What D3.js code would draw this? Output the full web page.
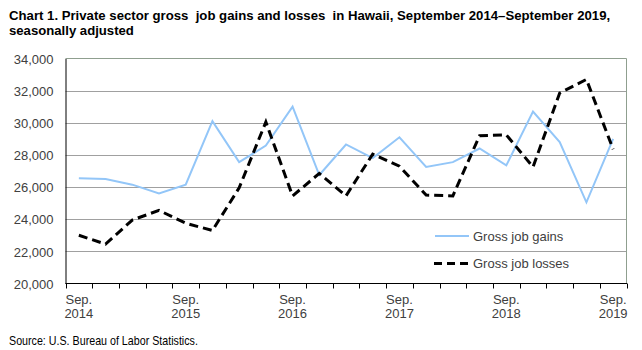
<!DOCTYPE html>
<html>
<head>
<meta charset="utf-8">
<script src="https://cdn.jsdelivr.net/npm/d3@7"></script>
<style>
  body { margin: 0; background: #fff; }
  svg { display: block; }
  .title { font-family: "Liberation Sans", Arial, sans-serif; font-weight: bold; font-size: 13.5px; fill: #000; white-space: pre; }
  .tick text, .lbl { font-family: "Liberation Sans", Arial, sans-serif; font-size: 13px; fill: #404040; }
  .source { font-family: "Liberation Sans", Arial, sans-serif; font-size: 12px; fill: #000; }
</style>
</head>
<body>
<svg id="chart" width="642" height="350"></svg>
<script>
// quarterly, Sep 2014 .. Sep 2019
var quarters = ['Sep 2014','Dec 2014','Mar 2015','Jun 2015','Sep 2015','Dec 2015','Mar 2016','Jun 2016',
    'Sep 2016','Dec 2016','Mar 2017','Jun 2017','Sep 2017','Dec 2017','Mar 2018','Jun 2018',
    'Sep 2018','Dec 2018','Mar 2019','Jun 2019','Sep 2019'];
var gains = [26550, 26500, 26150, 25600, 26150, 30100, 27550, 28580, 31000, 26750, 28650,
    27800, 29100, 27250, 27550, 28400, 27350, 30700, 28800, 25050, 29000];
var losses = [23000, 22450, 23950, 24550, 23750, 23300, 25950, 30050, 25450, 26850, 25450,
    28050, 27300, 25500, 25450, 29200, 29250, 27250, 31850, 32700, 28350];
var yTicks = [20000, 22000, 24000, 26000, 28000, 30000, 32000, 34000];
var xLabels = {'Sep 2014': ['Sep.', '2014'], 'Sep 2015': ['Sep.', '2015'], 'Sep 2016': ['Sep.', '2016'],
    'Sep 2017': ['Sep.', '2017'], 'Sep 2018': ['Sep.', '2018'], 'Sep 2019': ['Sep.', '2019']};

var svg = d3.select('#chart');
var margin = {l: 65.5, r: 626.5, t: 58.5, b: 283.5};

var x = d3.scaleBand().domain(quarters).range([margin.l, margin.r]);
var y = d3.scaleLinear().domain([20000, 34000]).range([margin.b, margin.t]);

// narrow font is not installed, so squeeze text horizontally to the original width
function narrowText(cls, tx, ty, width, str) {
    var t = svg.append('text').attr('class', cls).text(str);
    var sx = width / t.node().getComputedTextLength();
    t.attr('transform', 'translate(' + tx + ',' + ty + ') scale(' + sx + ',1)');
    return t;
}

// title
narrowText('title', 9, 19.5, 602,
    'Chart 1. Private sector gross  job gains and losses  in Hawaii, September 2014\u2013September 2019,');
narrowText('title', 9, 35, 125, 'seasonally adjusted');

// grid
svg.append('g').selectAll('line')
    .data(yTicks.slice(1, -1))
    .enter().append('line')
    .attr('x1', margin.l).attr('x2', margin.r)
    .attr('y1', function(d) { return Math.round(y(d)) + 0.5; })
    .attr('y2', function(d) { return Math.round(y(d)) + 0.5; })
    .attr('stroke', '#a0a0a0').attr('stroke-width', 1);

// plot border top & right
svg.append('path')
    .attr('d', 'M' + margin.l + ',' + margin.t + 'H' + margin.r + 'V' + margin.b)
    .attr('fill', 'none').attr('stroke', '#8f9f8f').attr('stroke-width', 1);

// y axis
var yAxis = svg.append('g')
    .attr('transform', 'translate(' + margin.l + ',0)')
    .call(d3.axisLeft(y).tickValues(yTicks).tickSize(0).tickPadding(12).tickFormat(d3.format(',')));
yAxis.select('.domain').attr('stroke', '#000');
yAxis.selectAll('.tick text').attr('dy', '0.36em');

// x axis: ticks on category boundaries
var xg = svg.append('g').attr('transform', 'translate(0,' + margin.b + ')');
xg.append('line').attr('x1', margin.l).attr('x2', margin.r + 0.5)
    .attr('stroke', '#000');
xg.selectAll('.xt')
    .data(quarters.concat(['end']))
    .enter().append('line')
    .attr('class', 'xt')
    .attr('x1', function(d, i) { return Math.round(i < quarters.length ? x(d) : margin.r) + 0.5; })
    .attr('x2', function(d, i) { return Math.round(i < quarters.length ? x(d) : margin.r) + 0.5; })
    .attr('y1', 0).attr('y2', 5)
    .attr('stroke', '#000');

var lbl = svg.append('g').selectAll('text')
    .data(quarters.filter(function(q) { return xLabels[q]; }))
    .enter().append('text')
    .attr('class', 'lbl')
    .attr('text-anchor', 'middle');
lbl.append('tspan')
    .attr('x', function(d) { return x(d) + x.bandwidth() / 2; })
    .attr('y', 304)
    .text(function(d) { return xLabels[d][0]; });
lbl.append('tspan')
    .attr('x', function(d) { return x(d) + x.bandwidth() / 2; })
    .attr('y', 318)
    .text(function(d) { return xLabels[d][1]; });

// lines
var line = function(vals) {
    return d3.line()
        .x(function(d, i) { return x(quarters[i]) + x.bandwidth() / 2; })
        .y(function(d) { return y(d); })(vals);
};
svg.append('path').attr('d', line(gains))
    .attr('fill', 'none').attr('stroke', '#93c6f8').attr('stroke-width', 2);
svg.append('path').attr('d', line(losses))
    .attr('fill', 'none').attr('stroke', '#000').attr('stroke-width', 3)
    .attr('stroke-dasharray', '9,5');

// legend
var legend = svg.append('g');
legend.append('line').attr('x1', 435).attr('x2', 469).attr('y1', 236).attr('y2', 236)
    .attr('stroke', '#93c6f8').attr('stroke-width', 2);
legend.append('text').attr('class', 'lbl').attr('x', 473).attr('y', 240.5).text('Gross job gains');
legend.append('line').attr('x1', 434).attr('x2', 468).attr('y1', 263.5).attr('y2', 263.5)
    .attr('stroke', '#000').attr('stroke-width', 3).attr('stroke-dasharray', '8,5');
legend.append('text').attr('class', 'lbl').attr('x', 473).attr('y', 268).text('Gross job losses');

// source
narrowText('source', 9, 345, 189, 'Source: U.S. Bureau of Labor Statistics.');
</script>
</body>
</html>
